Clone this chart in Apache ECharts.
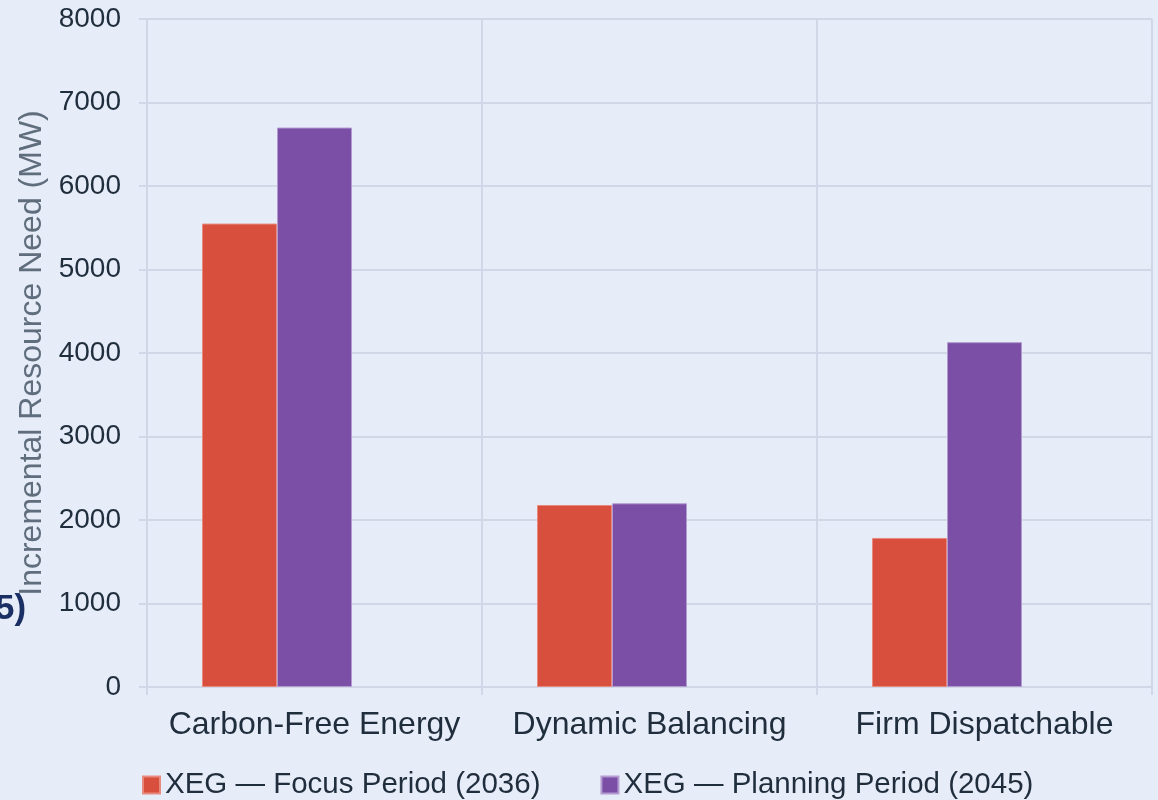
<!DOCTYPE html>
<html><head><meta charset="utf-8">
<script src="https://cdn.jsdelivr.net/npm/echarts@6/dist/echarts.min.js"></script>
<style>html,body{margin:0;padding:0;background:#e7edf8;}#c{width:1158px;height:800px;}</style>
</head><body><div id="c"></div>
<script>
const categories = ['Carbon-Free Energy', 'Dynamic Balancing', 'Firm Dispatchable'];
const focusPeriod = [5550, 2180, 1785];
const planningPeriod = [6700, 2200, 4130];
const thirdSeries = [null, null, null];
const seriesNames = ['XEG — Focus Period (2036)', 'XEG — Planning Period (2045)'];
const yTicks = {min: 0, max: 8000, interval: 1000};

const chart = echarts.init(document.getElementById('c'), null, {renderer: 'canvas'});
const font = 'Liberation Sans, Arial, sans-serif';
chart.setOption({
  backgroundColor: '#e7edf8',
  animation: false,
  textStyle: {fontFamily: font},
  graphic: [{type: 'text', x: -5, y: 609, style: {text: '5)', font: 'bold 35px ' + font, fill: '#1a2f63', textVerticalAlign: 'middle', verticalAlign: 'middle'}}],
  grid: {left: 147, right: 6, top: 19, bottom: 113, containLabel: false},
  legend: {
    data: seriesNames, left: 142, top: 770, padding: 0, itemWidth: 17, itemHeight: 17, itemGap: 60,
    textStyle: {fontSize: 29.5, color: '#1f2d3d', fontFamily: font},
    icon: 'rect'
  },
  xAxis: {
    type: 'category', data: categories,
    axisLine: {lineStyle: {color: '#d0d8e8', width: 2}},
    axisTick: {show: true, length: 8, interval: 0, lineStyle: {color: '#d0d8e8', width: 2}},
    axisLabel: {fontSize: 32, color: '#1f2d3d', margin: 22, interval: 0, hideOverlap: false},
    splitLine: {show: true, interval: 0, lineStyle: {color: '#d0d8e8', width: 2}}
  },
  yAxis: {
    type: 'value', min: yTicks.min, max: yTicks.max, interval: yTicks.interval,
    name: 'Incremental Resource Need (MW)', nameLocation: 'middle', nameGap: 93,
    nameTextStyle: {fontSize: 32, color: '#5f6d7d'},
    axisLine: {show: true, lineStyle: {color: '#d0d8e8', width: 2}},
    axisTick: {show: true, length: 8, lineStyle: {color: '#d0d8e8', width: 2}},
    axisLabel: {fontSize: 28, color: '#1f2d3d', margin: 26, formatter: v => String(v)},
    splitLine: {show: true, lineStyle: {color: '#d0d8e8', width: 2}}
  },
  series: [
    {name: seriesNames[0], type: 'bar', data: focusPeriod, barWidth: 75, barGap: '0%',
     itemStyle: {color: '#d94f3e', borderColor: '#e88a7e', borderWidth: 1}},
    {name: seriesNames[1], type: 'bar', data: planningPeriod, barWidth: 75, barGap: '0%',
     itemStyle: {color: '#7b4fa5', borderColor: '#b39ad0', borderWidth: 1}},
    {name: 'blank', type: 'bar', data: thirdSeries, barWidth: 75, barGap: '0%'}
  ]
});
</script></body></html>
